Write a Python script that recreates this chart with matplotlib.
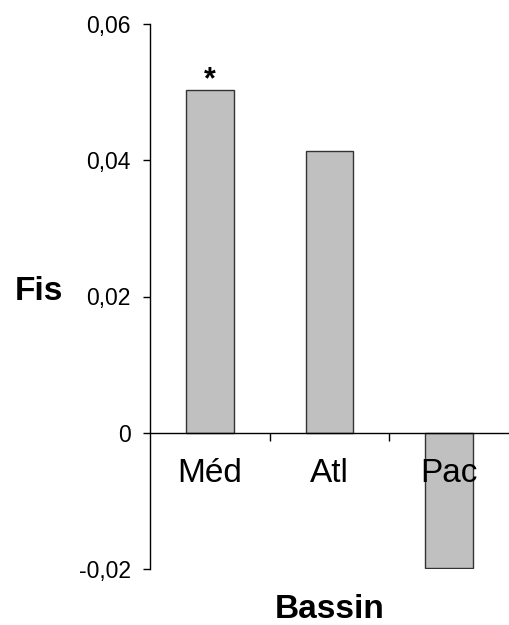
import numpy as np
import matplotlib.pyplot as plt
from matplotlib.ticker import FixedLocator

# valeurs de Fis par bassin
bassins = ['Méd', 'Atl', 'Pac']
fis = [0.0503, 0.0414, -0.0199]
signif = ['*', '', '']
yticks = [-0.02, 0, 0.02, 0.04, 0.06]
yticklabels = ['-0,02', '0', '0,02', '0,04', '0,06']

plt.rcParams['font.family'] = ['Liberation Sans', 'DejaVu Sans']

fig = plt.figure(figsize=(5.09, 6.25), dpi=100)
ax = fig.add_axes([0.2947, 0.0896, 0.7053, 0.872])

x = np.arange(len(bassins))
ax.bar(x, fis, width=0.4, color='#c0c0c0', edgecolor='#333333', linewidth=1.0)

for xi, v, s in zip(x, fis, signif):
    if s:
        ax.annotate(s, xy=(xi, v), xytext=(0, -4), textcoords='offset points',
                    ha='center', va='bottom', fontsize=22, fontweight='bold')

ax.set_xlim(-0.5, 2.5)
ax.set_ylim(-0.02, 0.06)

ax.spines['top'].set_visible(False)
ax.spines['right'].set_visible(False)
ax.spines['bottom'].set_position(('data', 0))
ax.spines['left'].set_linewidth(1.0)
ax.spines['bottom'].set_linewidth(1.0)

ax.set_yticks(yticks)
ax.set_yticklabels(yticklabels, fontsize=16.5)
ax.tick_params(axis='y', direction='out', length=5, width=1, pad=9)

# ticks aux limites des catégories, étiquettes au centre
ax.xaxis.set_major_locator(FixedLocator([0.5, 1.5]))
ax.xaxis.set_major_formatter(plt.NullFormatter())
ax.set_xticks(x, minor=True)
ax.set_xticklabels(bassins, minor=True, fontsize=24)
ax.tick_params(axis='x', which='major', direction='out', length=6, width=1)
ax.tick_params(axis='x', which='minor', length=0, pad=18)

ax.set_ylabel('Fis', rotation=0, fontsize=24, fontweight='bold', ha='center', va='center')
ax.yaxis.set_label_coords(-0.31, 0.51)
ax.set_xlabel('Bassin', fontsize=24, fontweight='bold', va='center')
ax.xaxis.set_label_coords(0.5, -0.075)

plt.savefig('out.png', dpi=100)
